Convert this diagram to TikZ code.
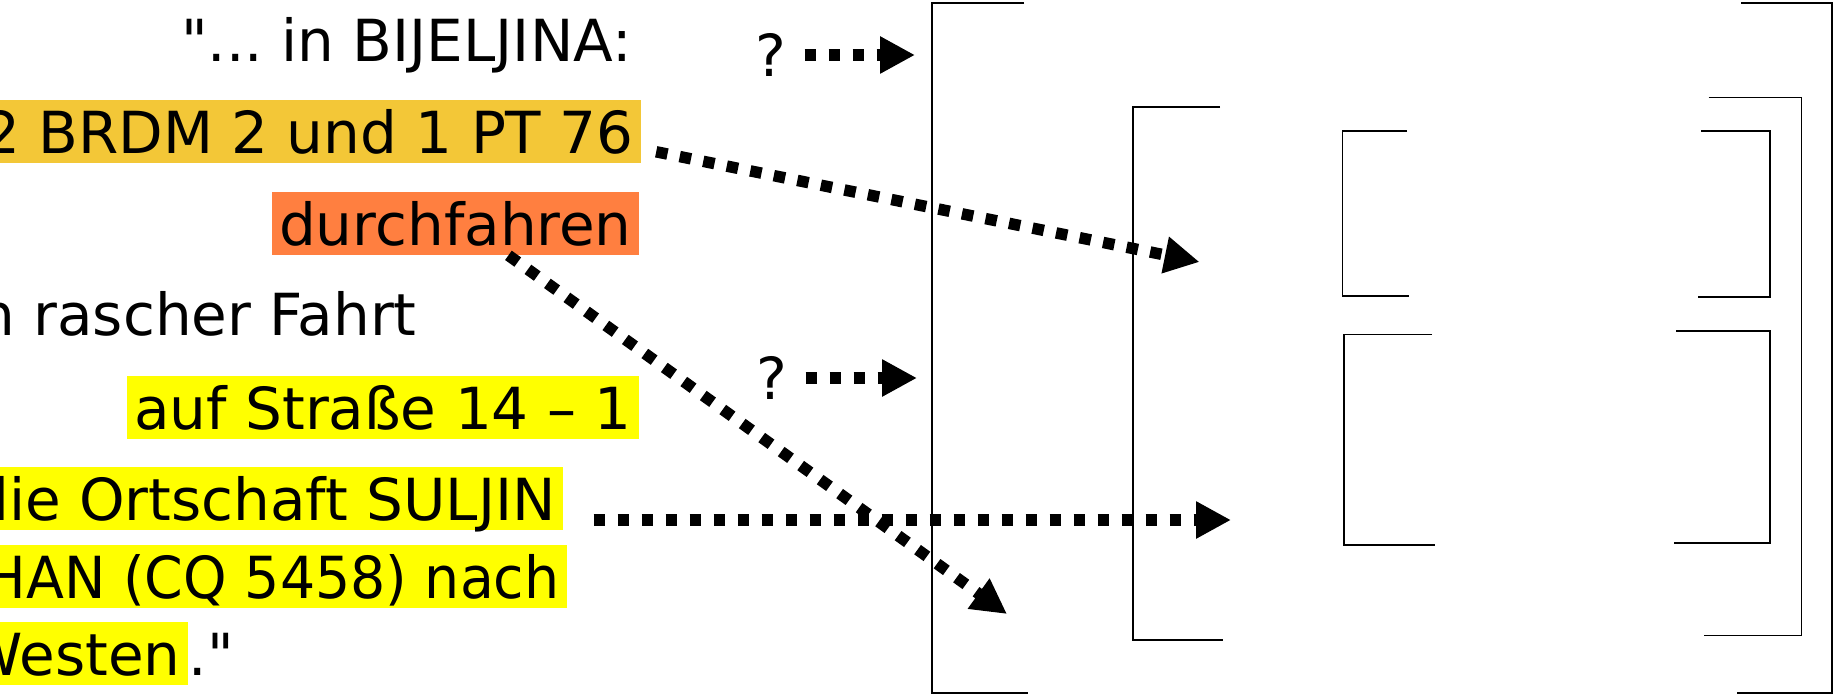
\documentclass[tikz,border=0pt]{standalone}
\usepackage{fontspec}
\setmainfont{DejaVu Sans}
\newfontfamily\narrowface{DejaVu Sans}[FakeStretch=0.955]
\usetikzlibrary{arrows.meta}
\definecolor{markgold}{HTML}{F3C737}
\definecolor{markorange}{HTML}{FF7F40}
\definecolor{markyellow}{HTML}{FFFF00}

\begin{document}
\begin{tikzpicture}[font=\fontsize{33}{40}\selectfont\frenchspacing,
  >={Triangle[length=0.7cm,width=0.7cm]},
  phrase/.style={anchor=base east, inner sep=0pt},
  marked/.style={anchor=base east, inner xsep=0.15cm, inner ysep=0.14cm,
    text height=0.92cm, text depth=0.06cm},
  ask/.style={inner xsep=0.36cm, inner ysep=0pt},
  link/.style={->, line width=0.23cm, dash pattern=on 0.23cm off 0.25cm},
  brk/.style={line width=0.9pt}]
  \useasboundingbox (0,0) rectangle (36.68,13.9);
  \clip (0,0) rectangle (36.68,13.9);

  \node[phrase] (l1) at (12.64,12.666) {\textquotedbl... in BIJELJINA:};
  \node[marked, fill=markgold] (l2) at (12.83,10.834) {2 BRDM 2 und 1 PT 76};
  \node[marked, fill=markorange] (l3) at (12.79,9.0) {durchfahren};
  \node[phrase] (l4) at (8.34,7.2) {n rascher Fahrt};
  \node[marked, fill=markyellow] (l5) at (12.79,5.314) {auf Straße 14 -- 1};
  \node[marked, fill=markyellow] (l6) at (11.27,3.5) {die Ortschaft SULJIN};
  \node[marked, fill=markyellow] (l7) at (11.35,1.934)
    {\narrowface\fontsize{33}{40}\selectfont HAN (CQ 5458) nach};
  \node[marked, fill=markyellow] (l8) at (3.77,0.4) {Westen};
  \node[anchor=base west, inner sep=0pt] (l8q) at (l8.base east) {.\textquotedbl};

  \node[ask] (q1) at (15.42,12.8) {?};
  \node[ask] (q2) at (15.44,6.34) {?};

  \draw[brk] (20.48,13.84) -- (18.64,13.84) -- (18.64,0.04) -- (20.56,0.04);
  \draw[brk] (34.82,13.84) -- (36.64,13.84) -- (36.64,0.04) -- (34.74,0.04);
  \draw[brk] (24.40,11.76) -- (22.66,11.76) -- (22.66,1.10) -- (24.46,1.10);
  \draw[brk] (34.17,11.95) -- (36.03,11.95) -- (36.03,1.19) -- (34.08,1.19);
  \draw[brk] (28.14,11.28) -- (26.85,11.28) -- (26.85,7.98) -- (28.18,7.98);
  \draw[brk] (34.02,11.28) -- (35.40,11.28) -- (35.40,7.96) -- (33.96,7.96);
  \draw[brk] (28.64,7.21) -- (26.88,7.21) -- (26.88,3.00) -- (28.70,3.00);
  \draw[brk] (33.52,7.28) -- (35.40,7.28) -- (35.40,3.04) -- (33.48,3.04);

  \coordinate (t1) at (18.3,12.8);
  \coordinate (t2) at (23.99,8.66);
  \coordinate (t3) at (20.14,1.62);
  \coordinate (t4) at (24.62,3.5);
  \coordinate (t5) at (18.34,6.34);

  \draw[link] (q1) -- (t1);
  \draw[link] (q2) -- (t5);
  \draw[link, shorten <=0.3cm] ([yshift=-0.34cm]l2.east) -- (t2);
  \draw[link] (l3.-31) -- (t3);
  \draw[link, shorten <=0.6cm] (l6.base east) -- (t4);
\end{tikzpicture}
\end{document}
